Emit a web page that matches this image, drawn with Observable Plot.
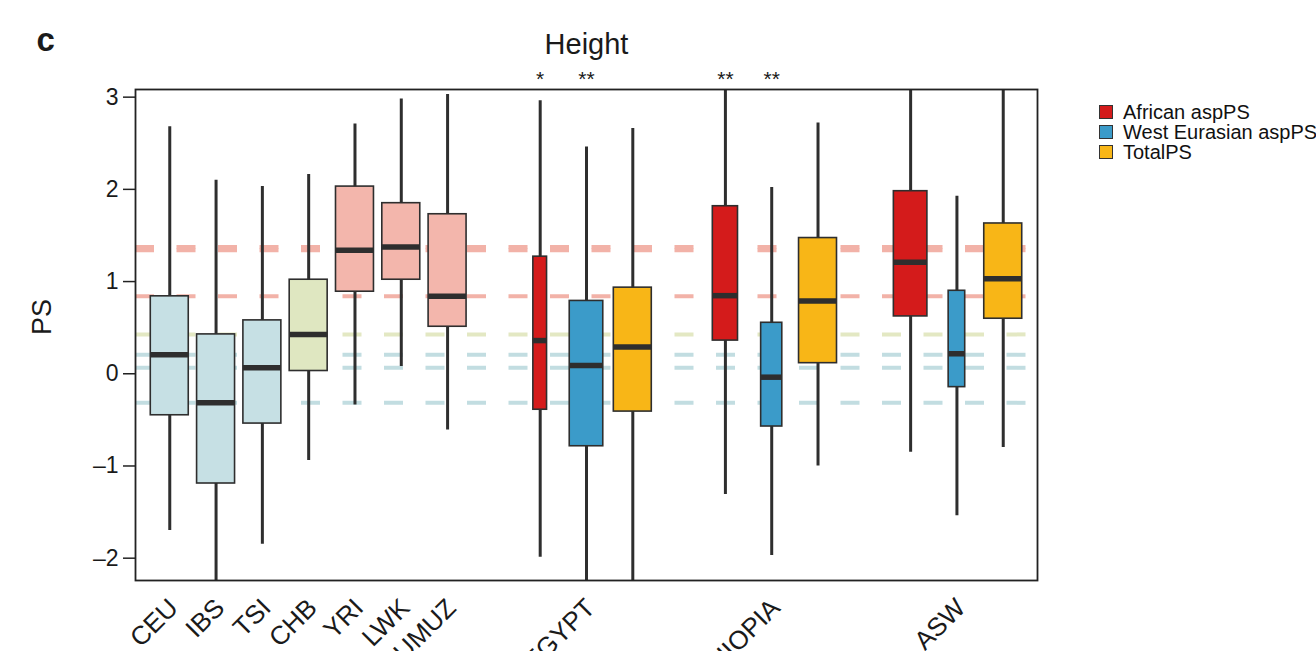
<!DOCTYPE html>
<html><head><meta charset="utf-8">
<script src="https://cdn.jsdelivr.net/npm/d3@7"></script>
<script src="https://cdn.jsdelivr.net/npm/@observablehq/plot@0.6"></script>
<style>
body{margin:0;background:#fff;}
#wrap{position:relative;width:1316px;height:651px;overflow:hidden;font-family:"Liberation Sans",Arial,sans-serif;}
#legend{position:absolute;left:1099px;top:102px;font-size:20px;color:#111;white-space:nowrap;}
.item{display:flex;align-items:center;height:20px;line-height:20px;}
.sw{width:14px;height:14px;border:1.5px solid #333;margin-right:10px;box-sizing:border-box;flex:none}
</style></head><body><div id="wrap"><div id="legend"></div></div>
<script>
// ---- data ----
const refPops   = ["CEU","IBS","TSI","CHB","YRI","LWK","GUMUZ"];
const refGroup  = ["European","European","European","East Asian","African","African","African"];
const refMin    = [-1.70,-2.60,-1.85,-0.94,-0.34,0.08,-0.61];
const refQ1     = [-0.45,-1.19,-0.54,0.03,0.89,1.02,0.51];
const refMed    = [0.206,-0.315,0.065,0.427,1.34,1.375,0.84];
const refQ3     = [0.84,0.427,0.579,1.02,2.03,1.85,1.73];
const refMax    = [2.68,2.10,2.03,2.16,2.71,2.98,3.03];
const refN      = [100,100,100,100,100,100,100];

const admixGroups = ["EGYPT","ETHIOPIA","ASW"];
const ancestry    = ["African aspPS","West Eurasian aspPS","TotalPS"];
const admMin = [[-1.99,-2.60,-2.60],[-1.31,-1.97,-1.00],[-0.85,-1.54,-0.80]];
const admQ1  = [[-0.39,-0.786,-0.41],[0.36,-0.572,0.115],[0.622,-0.145,0.597]];
const admMed = [[0.36,0.09,0.29],[0.847,-0.037,0.788],[1.21,0.217,1.03]];
const admQ3  = [[1.27,0.79,0.934],[1.817,0.553,1.472],[1.98,0.90,1.63]];
const admMax = [[2.96,2.46,2.66],[3.30,2.02,2.72],[3.30,1.925,3.30]];
const admN   = [[13,78,100],[44,31,100],[78,19,100]]; // relative sample sizes (box width ~ sqrt(n))
const admSig = [["*","**",""],["**","**",""],["","",""]];

const yTicks = [-2,-1,0,1,2,3];
const title = "Height";
const panel = "c";
const yLabel = "PS";

// ---- styles ----
const refColors = {"European":"#C6E0E4","East Asian":"#DFE7C1","African":"#F3B6AC"};
const lineColors = {"European":"#C2DDE1","East Asian":"#E3E8C3","African":"#F2B2A8"};
const ancColors = {"African aspPS":"#D41B1B","West Eurasian aspPS":"#3B9BC9","TotalPS":"#F8B617"};
const dark = "#2e2e2e";

// ---- build rows ----
const rows = [], labels = [], stars = [];
let slot = 0;
refPops.forEach((p,i)=>{
  rows.push({name:p, slot, min:refMin[i], q1:refQ1[i], med:refMed[i], q3:refQ3[i], max:refMax[i], n:refN[i], fill:refColors[refGroup[i]]});
  labels.push({label:p, slot});
  slot++;
});
admixGroups.forEach((g,gi)=>{
  slot++;
  ancestry.forEach((a,ai)=>{
    rows.push({name:g+" "+a, slot, min:admMin[gi][ai], q1:admQ1[gi][ai], med:admMed[gi][ai], q3:admQ3[gi][ai], max:admMax[gi][ai], n:admN[gi][ai], fill:ancColors[a]});
    if (ai===1) labels.push({label:g, slot});
    if (admSig[gi][ai]) stars.push({s:admSig[gi][ai], slot});
    slot++;
  });
});
const nMax = d3.max(rows, d=>d.n);
const half = d => 0.41*Math.sqrt(d.n/nMax);
const refLines = refPops.map((p,i)=>({y:refMed[i], c:lineColors[refGroup[i]]}));

const font = "'Liberation Sans', Arial, sans-serif";
const chart = Plot.plot({
  width:1316, height:651,
  marginLeft:135, marginRight:279, marginTop:89, marginBottom:71,
  style:{fontFamily:font, fontSize:"23px", color:"#1a1a1a", background:"transparent", overflow:"visible"},
  x:{type:"linear", domain:[-0.74, slot-1+0.74], axis:null},
  y:{domain:[-2.242, 3.083], axis:null},
  color:{type:"identity"},
  marks:[
    Plot.ruleY(refLines, {y:"y", stroke:"c", strokeWidth:4, strokeDasharray:"19,22.5", clip:true}),
    Plot.ruleX(rows, {x:"slot", y1:"min", y2:"max", stroke:dark, strokeWidth:3, clip:true}),
    Plot.rect(rows, {x1:d=>d.slot-half(d), x2:d=>d.slot+half(d), y1:"q1", y2:"q3", fill:"fill", stroke:dark, strokeWidth:1.6, clip:true}),
    Plot.ruleY(rows, {x1:d=>d.slot-half(d), x2:d=>d.slot+half(d), y:"med", stroke:dark, strokeWidth:5.5, clip:true}),
    Plot.frame({stroke:"#222", strokeWidth:1.8}),
    Plot.axisY({ticks:yTicks, tickSize:12, tickPadding:5, fontSize:23, stroke:"#222", strokeWidth:1.5, tickFormat:d=>d<0?"\u2013"+Math.abs(d):String(d), label:null}),
    Plot.text([yLabel], {frameAnchor:"left", text:d=>d, rotate:-90, dx:-93, fontSize:27}),
    Plot.text(labels, {x:"slot", text:"label", frameAnchor:"bottom", rotate:-45, textAnchor:"end", lineAnchor:"middle", dx:4, dy:23, fontSize:26}),
    Plot.text([title], {text:d=>d, frameAnchor:"top", dy:-56, fontSize:29}),
    Plot.text([panel], {text:d=>d, frameAnchor:"top-left", dx:-99, dy:-62, fontSize:33, fontWeight:"bold"}),
    Plot.text(stars, {x:"slot", text:"s", frameAnchor:"top", dy:-18, fontSize:21})
  ]
});
const wrap = document.getElementById("wrap");
wrap.insertBefore(chart, wrap.firstChild);
chart.style.position="absolute"; chart.style.left="0"; chart.style.top="0";

const legend = d3.select("#legend");
ancestry.forEach(a=>{
  const it = legend.append("div").attr("class","item");
  it.append("div").attr("class","sw").style("background", ancColors[a]);
  it.append("span").text(a);
});
</script></body></html>
